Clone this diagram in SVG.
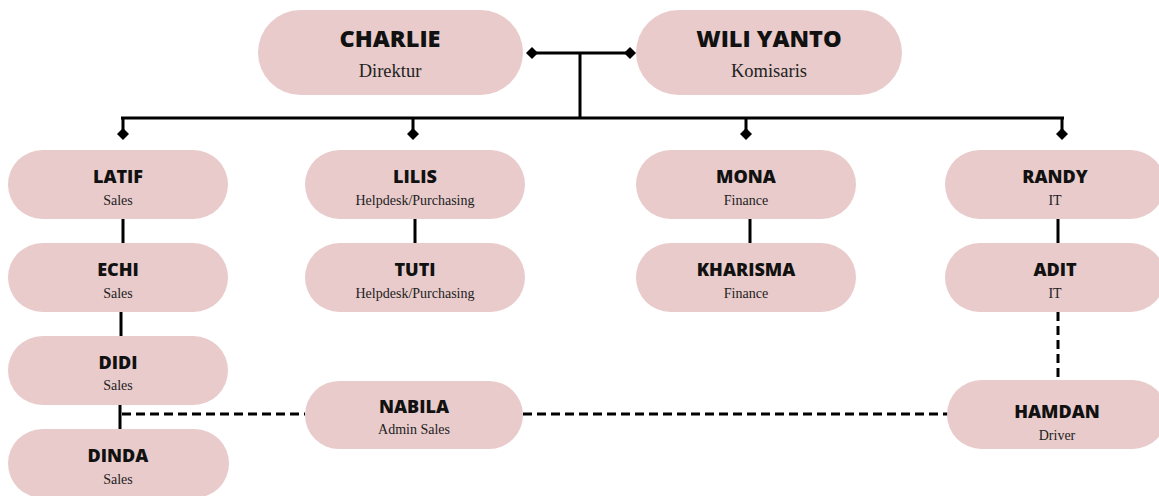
<svg xmlns="http://www.w3.org/2000/svg" width="1159" height="496" viewBox="0 0 1159 496">
<defs>
<style>
.box{fill:#e9cbcb}
.nm{font-family:"Open Sans","DejaVu Sans",sans-serif;font-weight:800;fill:#111;text-anchor:middle}
.rl{font-family:"Liberation Serif","DejaVu Serif",serif;fill:#222;text-anchor:middle}
.big{font-size:23.5px}
.bigr{font-size:18.5px}
.sm{font-size:18px}
.smr{font-size:14px}
.ln{stroke:#000;stroke-width:3;fill:none}
.dash{stroke:#000;stroke-width:3;fill:none;stroke-dasharray:9 5}
.dia{fill:#000}
</style>
</defs>
<rect width="1159" height="496" fill="#fff"/>
<g id="connectors">
<path class="ln" d="M532 53 H630 M580 53 V118 M121 118 H1064 M123 118 V130 M413 118 V130 M746 118 V130 M1062 118 V130"/>
<polygon class="dia" points="532,47 538,53 532,59 526,53"/>
<polygon class="dia" points="630,47 636,53 630,59 624,53"/>
<polygon class="dia" points="123,128 129,134 123,140 117,134"/>
<polygon class="dia" points="413,128 419,134 413,140 407,134"/>
<polygon class="dia" points="746,128 752,134 746,140 740,134"/>
<polygon class="dia" points="1062,128 1068,134 1062,140 1056,134"/>
<path class="ln" d="M123 219 V243 M121 312 V336 M120 405 V429 M415 219 V243 M750 219 V243 M1058 219 V243"/>
<path class="dash" d="M122 414 H305 M523 414 H948 M1058 312 V380"/>
</g>
<g id="charlie"><rect class="box" x="258" y="10" width="265" height="85" rx="42.5"/><text class="nm big" x="390" y="47">CHARLIE</text><text class="rl bigr" x="390" y="77">Direktur</text></g>
<g id="wiliyanto"><rect class="box" x="636" y="10" width="266" height="85" rx="42.5"/><text class="nm big" x="769" y="47">WILI YANTO</text><text class="rl bigr" x="769" y="77">Komisaris</text></g>
<g id="latif"><rect class="box" x="8" y="150" width="220" height="69" rx="34.5"/><text class="nm sm" x="118" y="183">LATIF</text><text class="rl smr" x="118" y="205">Sales</text></g>
<g id="echi"><rect class="box" x="8" y="243" width="220" height="69" rx="34.5"/><text class="nm sm" x="118" y="276">ECHI</text><text class="rl smr" x="118" y="298">Sales</text></g>
<g id="didi"><rect class="box" x="8" y="336" width="220" height="69" rx="34.5"/><text class="nm sm" x="118" y="369">DIDI</text><text class="rl smr" x="118" y="390">Sales</text></g>
<g id="dinda"><rect class="box" x="8" y="429" width="221" height="69" rx="34.5"/><text class="nm sm" x="118" y="462">DINDA</text><text class="rl smr" x="118" y="484">Sales</text></g>
<g id="lilis"><rect class="box" x="305" y="150" width="220" height="69" rx="34.5"/><text class="nm sm" x="415" y="183">LILIS</text><text class="rl smr" x="415" y="205">Helpdesk/Purchasing</text></g>
<g id="tuti"><rect class="box" x="305" y="243" width="220" height="69" rx="34.5"/><text class="nm sm" x="415" y="276">TUTI</text><text class="rl smr" x="415" y="298">Helpdesk/Purchasing</text></g>
<g id="mona"><rect class="box" x="636" y="150" width="220" height="69" rx="34.5"/><text class="nm sm" x="746" y="183">MONA</text><text class="rl smr" x="746" y="205">Finance</text></g>
<g id="kharisma"><rect class="box" x="636" y="243" width="220" height="69" rx="34.5"/><text class="nm sm" x="746" y="276">KHARISMA</text><text class="rl smr" x="746" y="298">Finance</text></g>
<g id="randy"><rect class="box" x="945" y="150" width="220" height="69" rx="34.5"/><text class="nm sm" x="1055" y="183">RANDY</text><text class="rl smr" x="1055" y="205">IT</text></g>
<g id="adit"><rect class="box" x="945" y="243" width="220" height="69" rx="34.5"/><text class="nm sm" x="1055" y="276">ADIT</text><text class="rl smr" x="1055" y="298">IT</text></g>
<g id="nabila"><rect class="box" x="305" y="381" width="218" height="68" rx="34"/><text class="nm sm" x="414" y="413">NABILA</text><text class="rl smr" x="414" y="434">Admin Sales</text></g>
<g id="hamdan"><rect class="box" x="947" y="380" width="220" height="69" rx="34.5"/><text class="nm sm" x="1057" y="418">HAMDAN</text><text class="rl smr" x="1057" y="440">Driver</text></g>
</svg>
